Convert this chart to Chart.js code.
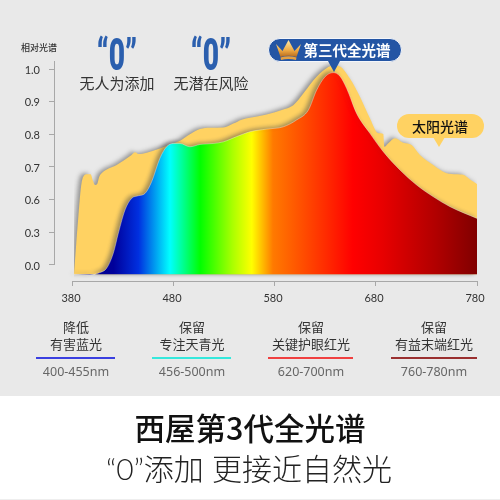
<!DOCTYPE html>
<html><head><meta charset="utf-8">
<script src="https://cdn.jsdelivr.net/npm/chart.js@4"></script>
<style>
html,body{margin:0;padding:0;width:500px;height:500px;overflow:hidden;background:#fff}
#grey{position:absolute;left:0;top:0;width:500px;height:396px;background:#e9e9e9}
#foot{position:absolute;left:0;top:499px;width:500px;height:1px;background:#eee}
canvas{position:absolute;left:0;top:0}
.t{position:absolute;white-space:nowrap;transform:translate(-50%,-50%);font-family:"Noto Sans CJK SC","Noto Sans",sans-serif;line-height:1}
.zero{font-family:Roboto,sans-serif;font-weight:900;font-size:44px;color:#2b5fae;transform:translate(-50%,-50%) scaleX(.64)}
.bar{position:absolute;height:2px;top:357px}
.pill{position:absolute;border-radius:12px;box-sizing:border-box}
.tip{position:absolute;width:0;height:0;border-left:6px solid transparent;border-right:6px solid transparent}
</style></head><body>
<div id="grey"></div><div id="foot"></div>
<canvas id="c" width="500" height="500"></canvas>

<div class="t" style="left:39px;top:47px;font-size:9px;font-weight:500;color:#333">相对光谱</div>
<div class="t zero" style="left:117px;top:55px">“0”</div>
<div class="t zero" style="left:211px;top:55px">“0”</div>
<div class="t" style="left:117px;top:82px;font-size:15px;color:#333">无人为添加</div>
<div class="t" style="left:211px;top:82px;font-size:15px;color:#333">无潜在风险</div>

<div class="pill" style="left:268px;top:38px;width:134px;height:24px;background:#2455a4;border:1px solid #f4f6fa"></div>
<div class="tip" style="left:328px;top:61px;border-top:11px solid #2455a4"></div>
<svg style="position:absolute;left:275px;top:39px" width="27" height="22" viewBox="0 0 27 22">
<defs><linearGradient id="g" x1="0" y1="0" x2="0" y2="1"><stop offset="0" stop-color="#ffeaa8"/><stop offset=".6" stop-color="#eeaa44"/><stop offset="1" stop-color="#b86a1c"/></linearGradient></defs>
<path d="M1 5 L7.5 12 L13.5 1 L19.5 12 L26 5 L21.5 18 Q13.5 15.5 5.5 18 Z" fill="url(#g)"/>
<path d="M5.5 18.5 Q13.5 16 21.5 18.5 L21 21 Q13.5 19 6 21 Z" fill="#e6a040"/></svg>
<div class="t" style="left:347px;top:50px;font-size:14.5px;font-weight:700;color:#fff">第三代全光谱</div>

<div class="pill" style="left:397px;top:114px;width:87px;height:24px;background:#ffd262"></div>
<div class="tip" style="left:433px;top:137px;border-top:10px solid #ffd262"></div>
<div class="t" style="left:440px;top:126px;font-size:14px;font-weight:500;color:#111">太阳光谱</div>

<div class="t" style="left:76px;top:326px;font-size:13px;color:#333">降低</div>
<div class="t" style="left:76px;top:343px;font-size:13px;color:#333">有害蓝光</div>
<div class="bar" style="left:36px;width:79px;background:#3a3fe0"></div>
<div class="t" style="left:76px;top:372px;font-size:12.5px;color:#666;font-family:'Noto Sans',sans-serif">400-455nm</div>

<div class="t" style="left:192px;top:326px;font-size:13px;color:#333">保留</div>
<div class="t" style="left:192px;top:343px;font-size:13px;color:#333">专注天青光</div>
<div class="bar" style="left:152px;width:79px;background:#35e8dc"></div>
<div class="t" style="left:192px;top:372px;font-size:12.5px;color:#666;font-family:'Noto Sans',sans-serif">456-500nm</div>

<div class="t" style="left:311px;top:326px;font-size:13px;color:#333">保留</div>
<div class="t" style="left:311px;top:343px;font-size:13px;color:#333">关键护眼红光</div>
<div class="bar" style="left:268px;width:85px;background:#f04040"></div>
<div class="t" style="left:311px;top:372px;font-size:12.5px;color:#666;font-family:'Noto Sans',sans-serif">620-700nm</div>

<div class="t" style="left:434px;top:326px;font-size:13px;color:#333">保留</div>
<div class="t" style="left:434px;top:343px;font-size:13px;color:#333">有益末端红光</div>
<div class="bar" style="left:391px;width:86px;background:#9a3030"></div>
<div class="t" style="left:434px;top:372px;font-size:12.5px;color:#666;font-family:'Noto Sans',sans-serif">760-780nm</div>

<div class="t" style="left:250px;top:427px;font-size:30.5px;font-weight:500;color:#111">西屋第3代全光谱</div>
<div class="t" style="left:249px;top:468px;font-size:30px;font-weight:300;color:#222;font-family:Lato,'Noto Sans CJK SC',sans-serif">“0”添加 更接近自然光</div>

<script>
const xTicks = [380, 480, 580, 680, 780];
const yTickValues = [0, 0.3, 0.6, 0.7, 0.8, 0.9, 1.0];
const baseValue = -0.086;

const sunNm = [381,383,385.3,388,390.2,394,397.5,399.5,401.8,404,406,408.4,423.2,438,441.4,444.7,453,466,476,486,495.8,505.7,515.6,528.8,538.7,547,555.2,571.7,588.2,598.1,608,621.2,632.8,637.7,644.3,654.2,664.1,674,682.3,687.2,688.2,692.2,698.8,707,715.3,723.5,736.7,749.9,759.8,766.4,773,780];
const sunValues = [-0.086,0.168,0.444,0.64,0.67,0.678,0.678,0.66,0.645,0.648,0.67,0.681,0.706,0.737,0.745,0.74,0.744,0.757,0.769,0.78,0.8,0.816,0.82,0.821,0.833,0.845,0.851,0.861,0.876,0.889,0.925,0.976,1.006,1.011,1.008,0.971,0.915,0.849,0.803,0.801,0.762,0.773,0.788,0.774,0.767,0.737,0.706,0.681,0.678,0.676,0.662,0.648];

const spectrumNm = [381,396.8,406.7,413.3,419.9,424.9,431.5,438.1,444.7,451.3,457.9,466.1,472.7,479.3,485.9,495.8,505.7,519,528.8,542,555.2,571.7,588.2,601.4,613,621.2,629.5,637.7,644.3,650.9,660.8,674,687.2,703.7,720.2,736.7,753.2,780];
const spectrumValues = [-0.086,-0.09,-0.07,-0.03,0.107,0.291,0.505,0.604,0.612,0.619,0.655,0.727,0.762,0.772,0.772,0.762,0.769,0.772,0.777,0.793,0.808,0.816,0.823,0.844,0.874,0.935,0.976,0.989,0.978,0.941,0.864,0.803,0.747,0.691,0.645,0.609,0.536,0.428];

const gradientNm = [380,420,445,476,506,538,557,578,631,657,686,740,780];
const gradientColors = ['#00008c','#00009a','#0030e0','#00ffff','#00ff00','#aaff00','#ffff00','#ff7a00','#ff2a00','#ff0000','#e80000','#b00000','#800000'];

/* the printed axis is uneven: 0.0, 0.3, 0.6 then steps of 0.1, all evenly spaced */
function toAxis(v){ return v <= 0.6 ? v / 0.3 : 2 + (v - 0.6) / 0.1; }
function points(nm, vals){ return nm.map((x,i)=>({x, y:toAxis(vals[i])})); }

function spectrumFill(ctx){
  const chart = ctx.chart, xs = chart.scales.x;
  if(!xs || !chart.chartArea) return '#f00';
  const a = xs.getPixelForValue(380), b = xs.getPixelForValue(780);
  const g = chart.ctx.createLinearGradient(a,0,b,0);
  gradientNm.forEach((n,i)=>g.addColorStop((n-380)/400, gradientColors[i]));
  return g;
}

const shadowPlugin = {
  id:'shadow',
  beforeDatasetsDraw(chart){
    const c = chart.ctx; c.save();
    c.shadowColor='rgba(70,70,70,.5)'; c.shadowBlur=4; c.shadowOffsetX=-3; c.shadowOffsetY=-1;
  },
  afterDatasetsDraw(chart){ chart.ctx.restore(); }
};
const axisLines = {
  id:'axisLines',
  afterDraw(chart){
    const c = chart.ctx, xs = chart.scales.x, ys = chart.scales.y;
    c.save(); c.strokeStyle='#a8a8a8'; c.lineWidth=1; c.beginPath();
    const by = Math.round(ys.bottom)+.5, lx = Math.round(xs.left)+.5;
    c.moveTo(xs.getPixelForValue(xTicks[0]),by); c.lineTo(xs.getPixelForValue(xTicks[4]),by);
    c.moveTo(lx,ys.top); c.lineTo(lx,ys.getPixelForValue(toAxis(0)));
    c.stroke(); c.restore();
  }
};

new Chart(document.getElementById('c'),{
  type:'line',
  data:{datasets:[
    {label:'全光谱',data:points(spectrumNm,spectrumValues),backgroundColor:spectrumFill,borderColor:'rgba(255,255,255,.35)',borderWidth:1,pointRadius:0,cubicInterpolationMode:'monotone',fill:{value:toAxis(baseValue)}},
    {label:'太阳光谱',data:points(sunNm,sunValues),backgroundColor:'#ffd262',borderWidth:0,pointRadius:0,cubicInterpolationMode:'monotone',fill:{value:toAxis(baseValue)}}
  ]},
  plugins:[shadowPlugin,axisLines],
  options:{
    responsive:false,animation:false,
    layout:{padding:{left:0,top:61,right:23,bottom:0}},
    plugins:{legend:{display:false},tooltip:{enabled:false}},
    scales:{
      x:{type:'linear',min:361.2,max:780,
        border:{display:false},
        grid:{drawOnChartArea:false,drawTicks:true,tickLength:5,color:'#a8a8a8'},
        afterBuildTicks(s){s.ticks=xTicks.map(v=>({value:v}));},
        afterFit(s){s.height=219;},
        ticks:{color:'#333',font:{family:'Lato',size:11},padding:6,labelOffset:-2,maxRotation:0,autoSkip:false,callback:v=>String(v)}
      },
      y:{type:'linear',min:-0.49,max:6.245,
        border:{display:false},
        grid:{drawOnChartArea:false,drawTicks:true,tickLength:5,color:'#a8a8a8'},
        afterBuildTicks(s){s.ticks=yTickValues.map(v=>({value:toAxis(v)}));},
        afterFit(s){s.width=54;},
        ticks:{color:'#333',font:{family:'Lato',size:11},padding:9,labelOffset:1,autoSkip:false,callback:(v,i)=>yTickValues[i].toFixed(1)}
      }
    }
  }
});
</script>
</body></html>
